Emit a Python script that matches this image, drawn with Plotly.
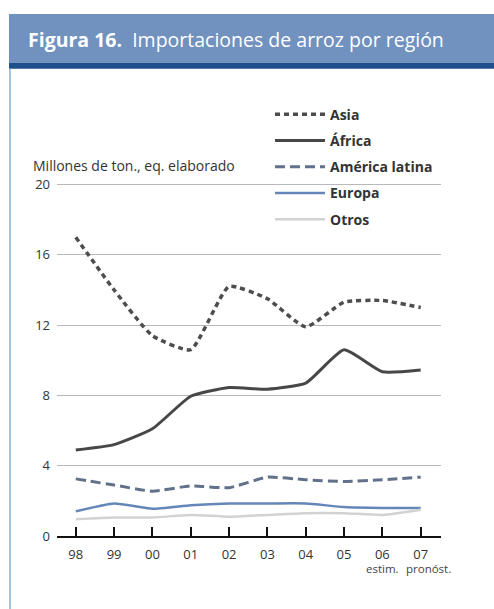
import plotly.graph_objects as go

years = ["98", "99", "00", "01", "02", "03", "04", "05", "06", "07"]
year_notes = {8: "estim.", 9: "pronóst."}
asia = [17.0, 14.0, 11.4, 10.6, 14.2, 13.5, 11.9, 13.3, 13.4, 13.0]
africa = [4.9, 5.2, 6.1, 7.95, 8.45, 8.35, 8.7, 10.6, 9.35, 9.45]
america_latina = [3.25, 2.9, 2.55, 2.85, 2.75, 3.35, 3.2, 3.1, 3.2, 3.35]
europa = [1.4, 1.85, 1.55, 1.75, 1.85, 1.85, 1.85, 1.65, 1.6, 1.6]
otros = [0.95, 1.05, 1.05, 1.2, 1.1, 1.2, 1.3, 1.3, 1.2, 1.5]
y_ticks = [0, 4, 8, 12, 16, 20]

FONT = "Open Sans"
x_idx = list(range(len(years)))

series = [
    ("Asia", asia, "#4d4d4d", 3.5, "5px,4px"),
    ("África", africa, "#474747", 3, "solid"),
    ("América latina", america_latina, "#617189", 3, "10px,5px"),
    ("Europa", europa, "#6586b8", 2.5, "solid"),
    ("Otros", otros, "#d2d2d2", 2.5, "solid"),
]

fig = go.Figure()
for name, vals, color, w, dash in series:
    fig.add_trace(go.Scatter(
        x=x_idx, y=vals, name=name, mode="lines", legendgroup=name,
        line=dict(color=color, width=w, dash=dash, shape="spline", smoothing=0.5),
        hoverinfo="skip",
    ))

# pixel -> paper helpers (range 0..20.2, value 20 sits at y=184)
L, R, T, B = 57, 441, 180.5, 536.5
def px(x):
    return (x - L) / (R - L)
def py(y):
    return (B - y) / (B - T)

shapes = [
    dict(type="rect", xref="paper", yref="paper", x0=px(9), x1=px(500), y0=py(62), y1=py(13),
         fillcolor="#7191bf", line=dict(width=0), layer="below"),
    dict(type="rect", xref="paper", yref="paper", x0=px(9), x1=px(500), y0=py(68), y1=py(62),
         fillcolor="#1e4f8c", line=dict(width=0), layer="below"),
    dict(type="line", xref="paper", yref="paper", x0=px(10), x1=px(10), y0=py(68), y1=py(612),
         line=dict(color="#a8c3df", width=2), layer="below"),
]

annotations = [
    dict(xref="paper", yref="paper", x=px(26), y=py(39), xanchor="left", yanchor="middle",
         text="<b>Figura 16.</b>  Importaciones de arroz por región", showarrow=False,
         font=dict(family=FONT, size=19.5, color="white")),
    dict(xref="paper", yref="paper", x=px(31), y=py(165), xanchor="left", yanchor="middle",
         text="Millones de ton., eq. elaborado", showarrow=False,
         font=dict(family=FONT, size=14, color="#333333")),
]
for idx, note in year_notes.items():
    annotations.append(dict(
        xref="x", yref="paper", x=idx + (0.2 if idx == 9 else 0), y=py(569),
        xanchor="center", yanchor="middle", text=note, showarrow=False,
        font=dict(family=FONT, size=11.5, color="#444444")))

fig.update_layout(
    width=494, height=609,
    margin=dict(l=L, r=494 - R, t=T, b=609 - B),
    paper_bgcolor="white", plot_bgcolor="white",
    font=dict(family=FONT, size=13, color="#333333"),
    showlegend=True,
    legend=dict(x=px(270), y=py(98), xanchor="left", yanchor="top",
                font=dict(family=FONT, size=14, color="#333333", weight="bold"),
                tracegroupgap=5, itemwidth=50, bgcolor="rgba(0,0,0,0)"),
    shapes=shapes, annotations=annotations,
    xaxis=dict(range=[-0.49, 9.53], tickmode="array", tickvals=x_idx, ticktext=years,
               tickangle=0,
               showgrid=False, zeroline=False, showline=True, linecolor="#111111", linewidth=2,
               ticks="inside", ticklen=9, tickwidth=2, tickcolor="#111111", ticklabelstandoff=5,
               tickfont=dict(family=FONT, size=13, color="#333333")),
    yaxis=dict(range=[0, 20.2], tickvals=y_ticks, showgrid=True, gridcolor="#b8b8b8", gridwidth=1,
               zeroline=False, showline=False, ticks="", ticklabelstandoff=6,
               tickfont=dict(family=FONT, size=13, color="#333333")),
)

fig.write_html("out.html")
